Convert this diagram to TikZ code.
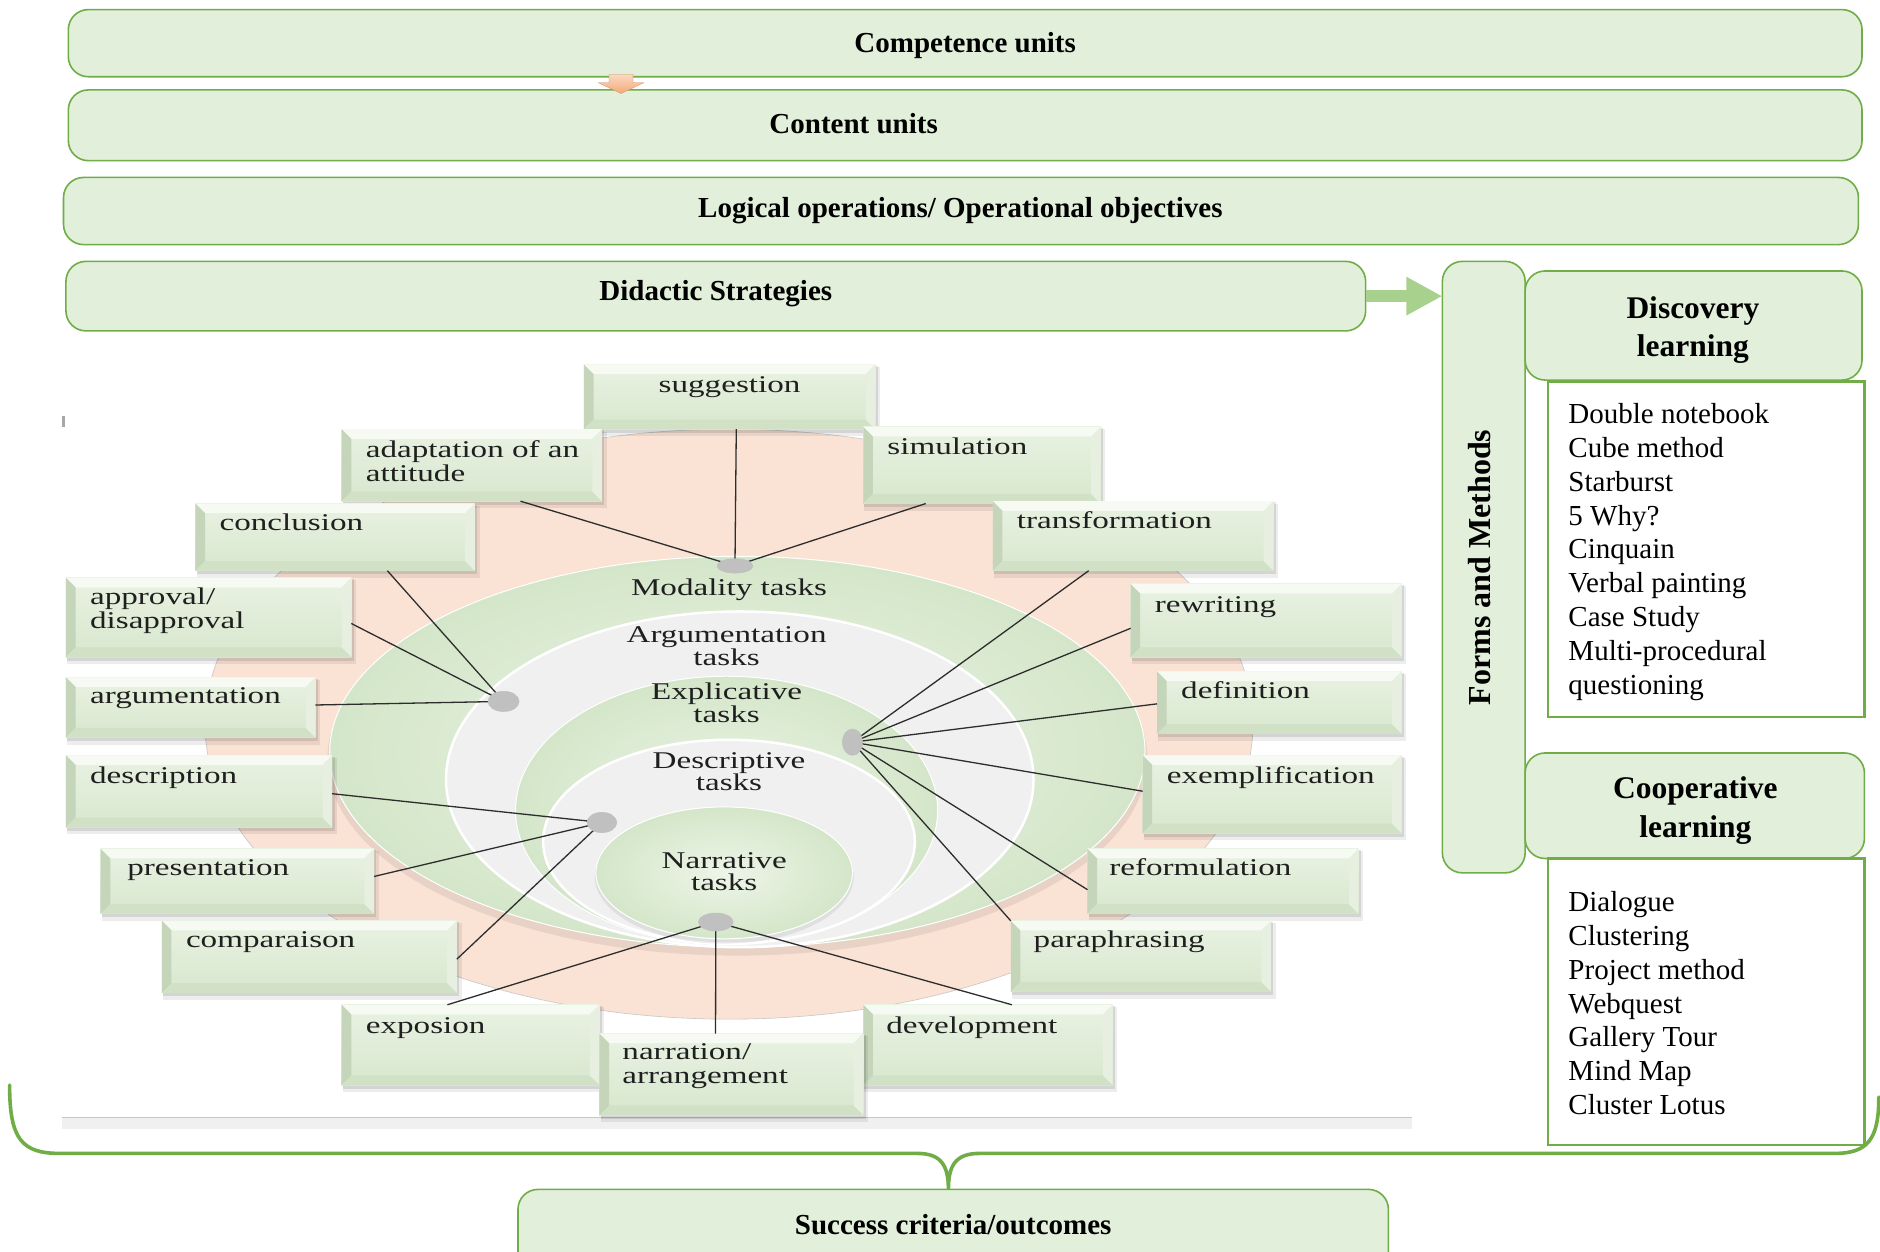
\documentclass[tikz,border=0pt]{standalone}
\usepackage{fontspec}
\setmainfont{Liberation Serif}
\newfontfamily\lblfont[FakeStretch=1.38]{Liberation Serif}
\usetikzlibrary{calc,shapes.geometric,arrows.meta}
\definecolor{grnB}{RGB}{112,173,71}
\definecolor{grnF}{RGB}{226,239,218}
\definecolor{grnA}{RGB}{169,209,142}
\definecolor{peach}{RGB}{250,226,212}
\definecolor{lgray}{RGB}{240,240,240}
\definecolor{dotg}{RGB}{192,192,192}
\definecolor{bxTop}{RGB}{232,242,226}
\definecolor{bxBot}{RGB}{216,231,206}
\definecolor{bxT}{RGB}{246,250,243}
\definecolor{bxL}{RGB}{196,213,185}
\definecolor{bxB}{RGB}{208,225,197}
\definecolor{bxR}{RGB}{230,239,224}
\definecolor{gI}{RGB}{237,245,232}
\definecolor{gO}{RGB}{212,230,201}
\definecolor{salm}{RGB}{244,170,120}
\definecolor{lnk}{RGB}{45,45,45}
\newcommand\bevbox[5]{%
  \fill[black, opacity=.07] ({#2+1},{#3+2}) rectangle ({#2+#4+4},{#3+#5+6});
  \fill[black, opacity=.10] ({#2+1},{#3+1}) rectangle ({#2+#4+2},{#3+#5+3});
  \node[bx, minimum width=#4*1.199pt, minimum height=#5*1.199pt] (#1) at (#2,#3) {};
  \fill[bxT] (#1.north west) -- (#1.north east) -- ({#2+#4-8},{#3+8}) -- ({#2+8},{#3+8}) -- cycle;
  \fill[bxL] (#1.north west) -- ({#2+8},{#3+8}) -- ({#2+8},{#3+#5-8}) -- (#1.south west) -- cycle;
  \fill[bxB] (#1.south west) -- ({#2+8},{#3+#5-8}) -- ({#2+#4-8},{#3+#5-8}) -- (#1.south east) -- cycle;
  \fill[bxR] (#1.north east) -- (#1.south east) -- ({#2+#4-8},{#3+#5-8}) -- ({#2+#4-8},{#3+8}) -- cycle;
}
\begin{document}
\begin{tikzpicture}[x=1.199pt,y=-1.199pt,
  rbox/.style={draw=grnB, fill=grnF, line width=1.6pt, rounded corners=20pt, inner sep=0pt, outer sep=0pt, anchor=north west},
  lstbox/.style={draw=grnB, fill=white, line width=2.6pt, inner sep=0pt, outer sep=0pt, anchor=north west},
  headtxt/.style={font=\bfseries\fontsize{29}{34}\selectfont},
  hdr/.style={font=\bfseries\fontsize{31.5}{38.4}\selectfont, align=center, inner sep=0pt},
  lsttxt/.style={font=\fontsize{29}{33.8}\selectfont, align=left, inner sep=0pt, anchor=north west},
  bx/.style={top color=bxTop, bottom color=bxBot, inner sep=0pt, outer sep=0pt, anchor=north west},
  lbl/.style={font=\lblfont\fontsize{24}{24}\selectfont, align=left, inner sep=0pt, anchor=north west, text=black!88},
  ilbl/.style={font=\lblfont\fontsize{24}{21.6}\selectfont, align=center, inner sep=0pt, anchor=south, text=black!88},
  conn/.style={draw=lnk, line width=1.3pt},
  dotn/.style={ellipse, fill=dotg, inner sep=0pt, draw=black!25, line width=.4pt},
]
\clip (0,0) rectangle (1568,1044);
\fill[white] (0,0) rectangle (1568,1044);

% ---------- concentric task diagram ----------
\fill[peach, draw=black!22, line width=.6pt] (608,604) ellipse [x radius=437, y radius=246];
\fill[black, opacity=.07] (615,633) ellipse [x radius=342, y radius=164];
\shade[inner color=gI, outer color=gO, draw=white, line width=1pt] (615,627) ellipse [x radius=340, y radius=163];
\fill[lgray, draw=white, line width=2.5pt] (617,650) ellipse [x radius=245, y radius=140];
\shade[inner color=gI, outer color=gO, draw=white, line width=1pt] (606,676) ellipse [x radius=176, y radius=112];
\fill[lgray, draw=white, line width=2.5pt] (608,702) ellipse [x radius=155, y radius=85];
\fill[black, opacity=.07] (604,731) ellipse [x radius=108, y radius=56];
\shade[inner color=gI, outer color=gO, draw=white, line width=1pt] (604,728) ellipse [x radius=107, y radius=55];

\fill[black!35] (52,347) rectangle (54,356);
\fill[lgray] (52,932) rectangle (1178,942);
\draw[black!22, line width=1pt] (52,932) -- (1178,932);

% ---------- label boxes ----------
\bevbox{sug}{487}{304}{243}{54}
\bevbox{adp}{285}{358}{217}{60}
\bevbox{sim}{720}{356}{198}{64}
\bevbox{con}{163}{420}{233}{56}
\bevbox{trf}{828}{418}{234}{58}
\bevbox{apr}{55}{482}{238}{66}
\bevbox{rew}{943}{487}{226}{61}
\bevbox{arg}{55}{565}{208}{50}
\bevbox{def}{965}{560}{204}{52}
\bevbox{des}{55}{630}{222}{60}
\bevbox{exm}{953}{630}{216}{65}
\bevbox{pre}{84}{708}{228}{54}
\bevbox{ref}{907}{708}{226}{54}
\bevbox{cmp}{135}{768}{246}{60}
\bevbox{par}{843}{768}{217}{59}
\bevbox{exp}{285}{838}{215}{67}
\bevbox{dev}{720}{838}{208}{67}
\bevbox{nar}{500}{862}{220}{68}

\node[lbl, anchor=north, align=center] (t-sug) at ($(sug.north)+(0,9)$) {\vphantom{d}suggestion};
\node[lbl] (t-adp) at ($(adp.north west)+(20,9.5)$) {\vphantom{d}adaptation of an\\attitude};
\node[lbl] (t-sim) at ($(sim.north west)+(20,9)$) {\vphantom{d}simulation};
\node[lbl] (t-con) at ($(con.north west)+(20,8.5)$) {\vphantom{d}conclusion};
\node[lbl] (t-trf) at ($(trf.north west)+(20,8.5)$) {\vphantom{d}transformation};
\node[lbl] (t-apr) at ($(apr.north west)+(20,8.5)$) {\vphantom{d}approval/\\disapproval};
\node[lbl] (t-rew) at ($(rew.north west)+(20,9.5)$) {\vphantom{d}rewriting};
\node[lbl] (t-arg) at ($(arg.north west)+(20,8)$) {\vphantom{d}argumentation};
\node[lbl] (t-def) at ($(def.north west)+(20,8.5)$) {\vphantom{d}definition};
\node[lbl] (t-des) at ($(des.north west)+(20,9)$) {\vphantom{d}description};
\node[lbl] (t-exm) at ($(exm.north west)+(20,9)$) {\vphantom{d}exemplification};
\node[lbl] (t-pre) at ($(pre.north west)+(22,8)$) {\vphantom{d}presentation};
\node[lbl] (t-ref) at ($(ref.north west)+(18,8)$) {\vphantom{d}reformulation};
\node[lbl] (t-cmp) at ($(cmp.north west)+(20,8.5)$) {\vphantom{d}comparaison};
\node[lbl] (t-par) at ($(par.north west)+(19,8.5)$) {\vphantom{d}paraphrasing};
\node[lbl] (t-exp) at ($(exp.north west)+(20,10)$) {\vphantom{d}exposion};
\node[lbl] (t-dev) at ($(dev.north west)+(19,10)$) {\vphantom{d}development};
\node[lbl] (t-nar) at ($(nar.north west)+(19,8)$) {\vphantom{d}narration/\\arrangement};

\node[ilbl, anchor=base] (l-mod) at (608,496.5) {Modality tasks};
\node[ilbl] (l-arg) at (606,555) {Argumentation\\tasks};
\node[ilbl] (l-exp) at (606,603) {Explicative\\tasks};
\node[ilbl] (l-des) at (608,660) {Descriptive\\tasks};
\node[ilbl] (l-nar) at (604,743) {Narrative\\tasks};

% ---------- connectors ----------
\coordinate (cmod) at (613,472);
\coordinate (carg) at (420,585);
\coordinate (cexp) at (711,619);
\coordinate (cdes) at (502,686);
\coordinate (cnar) at (597,769);

\draw[conn] ($(adp.south west)!0.687!(adp.south east)$) -- (cmod);
\draw[conn] ($(sug.south west)!0.523!(sug.south east)$) -- (cmod);
\draw[conn] ($(sim.south west)!0.263!(sim.south east)$) -- (cmod);
\draw[conn] ($(con.south west)!0.687!(con.south east)$) -- (carg);
\draw[conn] ($(apr.north east)!0.576!(apr.south east)$) -- (carg);
\draw[conn] ($(arg.north east)!0.46!(arg.south east)$) -- (carg);
\draw[conn] ($(trf.south west)!0.342!(trf.south east)$) -- (cexp);
\draw[conn] ($(rew.north west)!0.607!(rew.south west)$) -- (cexp);
\draw[conn] ($(def.north west)!0.52!(def.south west)$) -- (cexp);
\draw[conn] ($(exm.north west)!0.46!(exm.south west)$) -- (cexp);
\draw[conn] ($(ref.north west)!0.63!(ref.south west)$) -- (cexp);
\draw[conn] (par.north west) -- (cexp);
\draw[conn] ($(des.north east)!0.533!(des.south east)$) -- (cdes);
\draw[conn] ($(pre.north east)!0.426!(pre.south east)$) -- (cdes);
\draw[conn] ($(cmp.north east)!0.533!(cmp.south east)$) -- (cdes);
\draw[conn] ($(exp.north west)!0.41!(exp.north east)$) -- (cnar);
\draw[conn] ($(nar.north west)!0.44!(nar.north east)$) -- (cnar);
\draw[conn] ($(dev.north west)!0.596!(dev.north east)$) -- (cnar);

\node[dotn, minimum width=30*1.199pt, minimum height=12*1.199pt] (dmod) at (cmod) {};
\node[dotn, minimum width=26*1.199pt, minimum height=17*1.199pt] (darg) at (carg) {};
\node[dotn, minimum width=17*1.199pt, minimum height=22*1.199pt] (dexp) at (cexp) {};
\node[dotn, minimum width=25*1.199pt, minimum height=17*1.199pt] (ddes) at (cdes) {};
\node[dotn, minimum width=29*1.199pt, minimum height=15*1.199pt] (dnar) at (cnar) {};

% ---------- top bands ----------
\node[rbox, minimum width=1496*1.199pt, minimum height=56*1.199pt] (comp) at (57,8) {};
\node[headtxt] (comptxt) at (805,38) {Competence units};
\node[rbox, minimum width=1496*1.199pt, minimum height=59*1.199pt] (cont) at (57,75) {};
\node[headtxt] (conttxt) at (712,103) {Content units};
\node[rbox, minimum width=1497*1.199pt, minimum height=56*1.199pt] (logi) at (53,148) {};
\node[headtxt] (logitxt) at (801,176) {Logical operations/ Operational objectives};
\node[rbox, minimum width=1084*1.199pt, minimum height=58*1.199pt] (did) at (55,218) {};
\node[headtxt] (didtxt) at (597,245) {Didactic Strategies};

\coordinate (sa) at ($(comp.south west)+(461,-2)$);
\shade[top color=salm!45!white, bottom color=salm, draw=salm!85!black, line width=.3pt]
  ($(sa)+(-10,0)$) -- ++(20,0) -- ++(0,7) -- ++(9,0) -- ++(-19,9) -- ++(-19,-9) -- ++(9,0) -- cycle;

% ---------- right panel ----------
\node[rbox, minimum width=69*1.199pt, minimum height=510*1.199pt] (forms) at (1203,218) {};
\node[rotate=90, font=\bfseries\fontsize{32}{36}\selectfont, inner sep=0pt] (formstxt) at (1233.6,473.3) {Forms and Methods};
\node[rbox, minimum width=281*1.199pt, minimum height=91*1.199pt] (disc) at (1272,226) {};
\node[hdr] (disctxt) at (1412,275.4) {Discovery\\learning};
\node[lstbox, minimum width=264*1.199pt, minimum height=280*1.199pt] (dlist) at (1291,318) {};
\node[lsttxt] (dlisttxt) at (1308,336.5) {Double notebook\\Cube method\\Starburst\\5 Why?\\Cinquain\\Verbal painting\\Case Study\\Multi-procedural\\questioning};
\node[rbox, minimum width=283*1.199pt, minimum height=88*1.199pt] (coop) at (1272,628) {};
\node[hdr] (cooptxt) at (1414,675.9) {Cooperative\\learning};
\node[lstbox, minimum width=264*1.199pt, minimum height=239*1.199pt] (clist) at (1291,716) {};
\node[lsttxt] (clisttxt) at (1308,743.5) {Dialogue\\Clustering\\Project method\\Webquest\\Gallery Tour\\Mind Map\\Cluster Lotus};

\draw[grnA, line width=12pt, -{Triangle[length=36pt,width=36pt]}] (did.east) -- (did.east -| forms.west);

% ---------- brace and outcome ----------
\node[rbox, minimum width=726*1.199pt, minimum height=80*1.199pt] (succ) at (432,992) {};
\node[headtxt] (succtxt) at (795,1021) {Success criteria/outcomes};
\coordinate (btip) at ($(succ.north west)+(359,0)$);
\draw[grnB, line width=3.6pt, line cap=round]
  (8,905) .. controls (8,950) and (18,962) .. (50,962) -- (765,962)
  .. controls (785,962) and (791,972) .. (btip)
  .. controls (791,972) and (797,962) .. (817,962) -- (1530,962)
  .. controls (1558,962) and (1567,950) .. (1567,915);
\end{tikzpicture}
\end{document}
